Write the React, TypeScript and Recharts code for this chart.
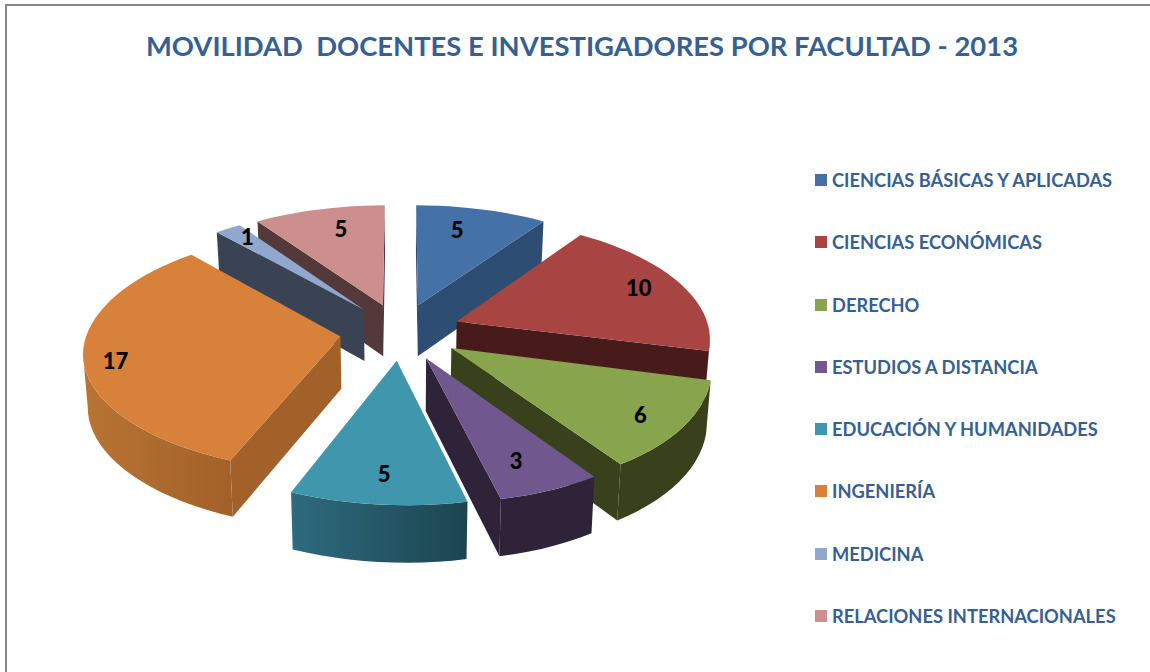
import { PieChart, Pie, Legend } from "recharts";

const CATEGORIES = [
  "CIENCIAS BÁSICAS Y APLICADAS",
  "CIENCIAS ECONÓMICAS",
  "DERECHO",
  "ESTUDIOS A DISTANCIA",
  "EDUCACIÓN Y HUMANIDADES",
  "INGENIERÍA",
  "MEDICINA",
  "RELACIONES INTERNACIONALES",
];
const VALUES = [5, 10, 6, 3, 5, 17, 1, 5];
const TOP_COLORS = ["#4471a6", "#a84442", "#88a54d", "#70578e", "#4096ad", "#d7813b", "#91a7cd", "#cd8f8e"];
// wall shade at the left and right end of each slice's rim
const WALL_LEFT = ["#2d4e72", "#471b1a", "#38411c", "#2e2339", "#2e6b7e", "#b97433", "#3a4354", "#533939"];
const WALL_RIGHT = ["#2d4e72", "#471b1a", "#38411c", "#2e2339", "#1b4550", "#a26129", "#3a4354", "#533939"];
// excel's label placement is not quite radial
const LABEL_NUDGE = [[-13, 3], [3, -2], [6, 5], [-7, 0], [2, 1], [-20, 7], [-6, -7], [10, 2]];

const TITLE = "MOVILIDAD  DOCENTES E INVESTIGADORES POR FACULTAD - 2013";
const TEXT_COLOR = "#376092";
const FONT = "Lato, sans-serif";

// 3D look: flat disc coordinates go through a small perspective projection
const EXPLODE = 0.24;
const SQUASH = 0.468;
const PERSPECTIVE = 0.125;
const NEAR_TILT = 5; // the front of the pie dips slightly to the right
const DEPTH = 52;
const LABEL_REACH = 0.8;

// draw order matters: pink sits under medicina, medicina sits under orange
const LAYERS = [[7], [6], [0, 1, 2, 3, 4, 5]];

const tableData = CATEGORIES.map((name, i) => ({ name, value: VALUES[i], fill: TOP_COLORS[i] }));

type Pt = { x: number; y: number; bx: number; by: number };

function project(cx: number, cy: number, R: number, X: number, Y: number): Pt {
  const w = 1 + PERSPECTIVE * Y;
  const x = cx + (R * X) / w;
  const y = cy - (R * SQUASH * Y) / w + NEAR_TILT * X * Math.max(0, -Y);
  return { x, y, bx: cx + (x - cx) * 0.985, by: y + DEPTH / Math.pow(w, 0.6) };
}

function Slice3D(props: any, index: number, layer: number[]) {
  const i = props.index ?? index;
  if (!layer.includes(i)) return <g />;
  const { cx, cy, outerRadius: R, startAngle, endAngle } = props;
  const t0 = ((90 - startAngle) * Math.PI) / 180;
  const t1 = ((90 - endAngle) * Math.PI) / 180;
  const mid = (t0 + t1) / 2;
  const ox = EXPLODE * Math.sin(mid);
  const oy = EXPLODE * Math.cos(mid);

  const apex = project(cx, cy, R, ox, oy);
  const steps = Math.max(2, Math.round(((t1 - t0) * 180) / Math.PI / 3));
  const rim: Pt[] = [];
  for (let s = 0; s <= steps; s++) {
    const t = t0 + ((t1 - t0) * s) / steps;
    rim.push(project(cx, cy, R, ox + Math.sin(t), oy + Math.cos(t)));
  }

  const quad = (a: Pt, b: Pt) => `M${a.x},${a.y}L${b.x},${b.y}L${b.bx},${b.by}L${a.bx},${a.by}Z`;

  // a wall shows only where the clockwise outline runs leftwards on screen
  const flatWalls: string[] = [];
  if (rim[0].x < apex.x) flatWalls.push(quad(apex, rim[0]));
  if (apex.x < rim[steps].x) flatWalls.push(quad(rim[steps], apex));

  const seen: Pt[] = [];
  for (let s = 0; s < steps; s++) {
    if (rim[s + 1].x < rim[s].x) {
      if (!seen.length) seen.push(rim[s]);
      seen.push(rim[s + 1]);
    }
  }
  const rimWall = seen.length
    ? "M" + seen.map((p) => `${p.x},${p.y}`).join("L") + "L" + [...seen].reverse().map((p) => `${p.bx},${p.by}`).join("L") + "Z"
    : null;
  const gradId = `rim-wall-${i}`;
  const xs = seen.map((p) => p.x);

  const top = `M${apex.x},${apex.y}` + rim.map((p) => `L${p.x},${p.y}`).join("") + "Z";
  return (
    <g>
      {rimWall && (
        <defs>
          <linearGradient id={gradId} gradientUnits="userSpaceOnUse" x1={Math.min(...xs)} x2={Math.max(...xs)} y1={0} y2={0}>
            <stop offset="0" stopColor={WALL_LEFT[i]} />
            <stop offset="1" stopColor={WALL_RIGHT[i]} />
          </linearGradient>
        </defs>
      )}
      {flatWalls.map((d, k) => (
        <path key={k} d={d} fill={WALL_RIGHT[i]} />
      ))}
      {rimWall && <path d={rimWall} fill={`url(#${gradId})`} />}
      <path d={top} fill={TOP_COLORS[i]} />
    </g>
  );
}

function SliceLabel(props: any) {
  const { cx, cy, outerRadius: R, midAngle, value, index } = props;
  const t = ((90 - midAngle) * Math.PI) / 180;
  const r = EXPLODE + LABEL_REACH;
  const p = project(cx, cy, R, r * Math.sin(t), r * Math.cos(t));
  return (
    <text
      x={p.x + LABEL_NUDGE[index][0]}
      y={p.y + LABEL_NUDGE[index][1]}
      textAnchor="middle"
      dominantBaseline="central"
      fontFamily={FONT}
      fontWeight={900}
      fontSize={22}
      fill="#000"
    >
      {value}
    </text>
  );
}

function LegendList({ payload }: any) {
  // each Pie layer reports the same entries
  const items = (payload ?? []).filter((item: any, i: number, all: any[]) => all.findIndex((o) => o.value === item.value) === i);
  return (
    <div>
      {items.map((item: any) => (
        <div key={item.value} style={{ height: 62.3, display: "flex", alignItems: "flex-start" }}>
          <span style={{ width: 12, height: 12, marginTop: 6, marginRight: 5, background: item.color, flex: "none" }} />
          <span style={{ fontFamily: FONT, fontWeight: 700, fontSize: 18.3, lineHeight: "24px", color: TEXT_COLOR, whiteSpace: "nowrap" }}>
            {item.value}
          </span>
        </div>
      ))}
    </div>
  );
}

export default function App() {
  return (
    <div style={{ position: "absolute", left: 0, top: 0, width: 1150, height: 672, background: "#fff", overflow: "hidden" }}>
      <div style={{ position: "absolute", left: 5, top: 4, right: -4, bottom: -4, borderTop: "2px solid #868686", borderLeft: "2px solid #868686" }} />
      <PieChart width={1150} height={672} margin={{ top: 0, right: 0, bottom: 0, left: 0 }} style={{ position: "absolute", left: 0, top: 0 }}>
        <text
          x={582}
          y={56}
          textAnchor="middle"
          fontFamily={FONT}
          fontWeight={700}
          fontSize={27.4}
          fill={TEXT_COLOR}
          style={{ whiteSpace: "pre" }}
        >
          {TITLE}
        </text>
        {LAYERS.map((layer, l) => (
          <Pie
            key={l}
            data={tableData}
            dataKey="value"
            nameKey="name"
            cx={400.5}
            cy={331.5}
            innerRadius={0}
            outerRadius={253}
            startAngle={90}
            endAngle={-270}
            stroke="none"
            isAnimationActive={false}
            legendType={l === LAYERS.length - 1 ? "square" : "none"}
            labelLine={false}
            label={l === LAYERS.length - 1 ? SliceLabel : false}
            shape={(props: any, index: number) => Slice3D(props, index, layer)}
          />
        ))}
        <Legend
          layout="vertical"
          align="right"
          verticalAlign="top"
          itemSorter={null}
          wrapperStyle={{ left: 815, top: 168, width: 330 }}
          content={LegendList}
        />
      </PieChart>
    </div>
  );
}
